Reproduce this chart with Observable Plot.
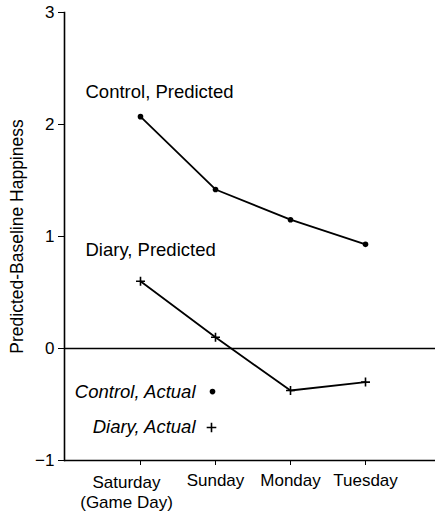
<!DOCTYPE html>
<html>
<head>
<meta charset="utf-8">
<script src="https://cdn.jsdelivr.net/npm/d3@7"></script>
<script src="https://cdn.jsdelivr.net/npm/@observablehq/plot@0.6"></script>
<style>
  html, body { margin: 0; padding: 0; background: white; }
</style>
</head>
<body>
<div id="chart"></div>
<script>
const days = ["Saturday", "Sunday", "Monday", "Tuesday"];
const xTickLabels = ["Saturday\n(Game Day)", "Sunday", "Monday", "Tuesday"];
const controlPredicted = [2.07, 1.42, 1.15, 0.93];
const diaryPredicted = [0.60, 0.10, -0.375, -0.30];
const yTicks = [-1, 0, 1, 2, 3];
const yLabel = "Predicted-Baseline Happiness";
const seriesLabels = ["Control, Predicted", "Diary, Predicted"];
const seriesLabelY = [2.29, 0.875];
const actualLabels = ["Control, Actual", "Diary, Actual"];
const actualLabelY = [-0.385, -0.705];

const control = days.map((d, i) => ({day: d, value: controlPredicted[i]}));
const diary = days.map((d, i) => ({day: d, value: diaryPredicted[i]}));
const seriesText = seriesLabels.map((t, i) => ({day: days[0], value: seriesLabelY[i], text: t}));
const actualText = actualLabels.map((t, i) => ({day: days[0], value: actualLabelY[i], text: t}));
const tickLabel = d => xTickLabels[days.indexOf(d)];
const yFormat = d => (d < 0 ? "\u2212" : "") + Math.abs(d);

const font = "'Liberation Sans', Arial, Helvetica, sans-serif";

const chart = Plot.plot({
  width: 435,
  height: 517,
  marginLeft: 64,
  marginRight: 0,
  marginTop: 12,
  marginBottom: 57,
  style: {fontFamily: font, fontSize: "17px", color: "black", background: "white"},
  x: {type: "point", domain: days, padding: 0.973, align: 0.52, label: null},
  y: {domain: [-1, 3], label: null},
  marks: [
    Plot.frame({anchor: "left", stroke: "black", strokeWidth: 1.6}),
    Plot.ruleY([-1], {stroke: "black", strokeWidth: 1.4}),
    Plot.ruleY([0], {stroke: "black", strokeWidth: 1.4}),
    Plot.axisY(yTicks, {tickSize: 6, tickPadding: 4, fontSize: 17, tickFormat: yFormat, label: null}),
    Plot.text([yLabel], {text: d => d, frameAnchor: "left", textAnchor: "middle", rotate: -90, dx: -47, fontSize: 17.5}),
    Plot.axisX(days, {tickSize: 5, tickPadding: 8, fontSize: 17, tickFormat: d => d === days[0] ? "" : tickLabel(d), label: null}),
    Plot.axisX(days.slice(0, 1), {tickSize: 0, tickPadding: 13, fontSize: 17, dx: -14, lineHeight: 1.18, tickFormat: tickLabel, label: null}),
    Plot.line(control, {x: "day", y: "value", stroke: "black", strokeWidth: 1.8}),
    Plot.dot(control, {x: "day", y: "value", r: 2.8, fill: "black"}),
    Plot.line(diary, {x: "day", y: "value", stroke: "black", strokeWidth: 1.8}),
    Plot.dot(diary, {x: "day", y: "value", r: 3, symbol: "plus", stroke: "black", strokeWidth: 1.6}),
    Plot.text(seriesText, {x: "day", y: "value", text: "text", textAnchor: "start", dx: -55, fontSize: 18.5}),
    Plot.text(actualText, {x: "day", y: "value", text: "text", textAnchor: "end", dx: 55, fontSize: 18.5, fontStyle: "italic"}),
    Plot.dot(actualText.slice(0, 1), {x: "day", y: "value", dx: 72, r: 2.8, fill: "black"}),
    Plot.dot(actualText.slice(1), {x: "day", y: "value", dx: 71, r: 3.2, symbol: "plus", stroke: "black", strokeWidth: 1.6})
  ]
});
document.getElementById("chart").appendChild(chart);
</script>
</body>
</html>
